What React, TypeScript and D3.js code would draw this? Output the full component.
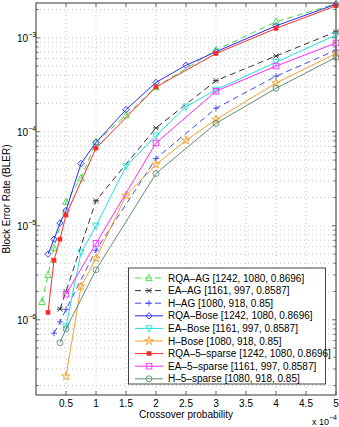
import React, { useEffect, useRef } from 'react';
import * as d3 from 'd3';

// crossover probability (x 10^-4) and BLER for each curve
const rqaAgX = [0.1, 0.2, 0.3, 0.5, 0.75, 1, 1.5, 2, 3, 4, 5];
const rqaAgY = [1.55e-6, 3.0e-6, 5.8e-6, 1.8e-5, 3.2e-5, 7.8e-5, 1.5e-4, 3.0e-4, 7.4e-4, 1.48e-3, 2.3e-3];
const eaAgX = [0.4, 0.5, 1, 2, 3, 4, 5];
const eaAgY = [1.3e-6, 2.0e-6, 1.85e-5, 1.1e-4, 3.5e-4, 6.4e-4, 1.16e-3];
const hAgX = [0.3, 0.4, 0.5, 1, 2, 3, 4, 5];
const hAgY = [7.2e-7, 9.5e-7, 1.29e-6, 5.5e-6, 5.2e-5, 1.78e-4, 3.9e-4, 7.4e-4];
const rqaBoseX = [0.2, 0.3, 0.4, 0.5, 0.75, 1, 1.5, 2, 2.5, 3, 4, 5];
const rqaBoseY = [5.0e-6, 7.2e-6, 1.07e-5, 1.45e-5, 4.6e-5, 7.7e-5, 1.72e-4, 3.35e-4, 5.1e-4, 7.1e-4, 1.34e-3, 2.28e-3];
const eaBoseX = [0.5, 0.75, 1, 1.5, 2, 2.5, 3, 4, 5];
const eaBoseY = [8.5e-7, 5.2e-6, 1.0e-5, 4.3e-5, 9.1e-5, 1.85e-4, 2.8e-4, 5.5e-4, 1.07e-3];
const hBoseX = [0.5, 0.75, 1, 1.5, 2, 2.5, 3, 4, 5];
const hBoseY = [2.5e-7, 2.26e-6, 4.5e-6, 2.1e-5, 4.5e-5, 8.1e-5, 1.35e-4, 3.3e-4, 6.8e-4];
const rqaSparseX = [0.2, 0.3, 0.4, 0.5, 1, 2, 3, 4, 5];
const rqaSparseY = [1.2e-6, 4.3e-6, 7.2e-6, 1.3e-5, 6.7e-5, 3.0e-4, 6.8e-4, 1.26e-3, 2.19e-3];
const eaSparseX = [0.5, 1, 2, 3, 4, 5];
const eaSparseY = [1.87e-6, 6.5e-6, 7.6e-5, 2.7e-4, 5.0e-4, 8.8e-4];
const hSparseX = [0.4, 0.5, 1, 2, 3, 4, 5];
const hSparseY = [5.7e-7, 8.0e-7, 3.4e-6, 3.6e-5, 1.23e-4, 2.9e-4, 6.2e-4];

const xTicks = [0.5, 1, 1.5, 2, 2.5, 3, 3.5, 4, 4.5, 5];
const yDecades = [-6, -5, -4, -3];

const series = [
  { name: 'RQA\u2013AG [1242, 1080, 0.8696]', x: rqaAgX, y: rqaAgY, color: '#3ddc3d', dash: '6,4', marker: 'triUp' },
  { name: 'EA\u2013AG [1161, 997, 0.8587]', x: eaAgX, y: eaAgY, color: '#333333', dash: '6,4', marker: 'aster' },
  { name: 'H\u2013AG [1080, 918, 0.85]', x: hAgX, y: hAgY, color: '#4444ff', dash: '6,4', marker: 'plus' },
  { name: 'RQA\u2013Bose [1242, 1080, 0.8696]', x: rqaBoseX, y: rqaBoseY, color: '#2b2bff', dash: null, marker: 'diamond' },
  { name: 'EA\u2013Bose [1161, 997, 0.8587]', x: eaBoseX, y: eaBoseY, color: '#22dede', dash: null, marker: 'triDown' },
  { name: 'H\u2013Bose [1080, 918, 0.85]', x: hBoseX, y: hBoseY, color: '#f0a030', dash: null, marker: 'star' },
  { name: 'RQA\u20135\u2013sparse [1242, 1080, 0.8696]', x: rqaSparseX, y: rqaSparseY, color: '#ff2a2a', dash: null, marker: 'fill' },
  { name: 'EA\u20135\u2013sparse [1161, 997, 0.8587]', x: eaSparseX, y: eaSparseY, color: '#ff2aff', dash: null, marker: 'square' },
  { name: 'H\u20135\u2013sparse [1080, 918, 0.85]', x: hSparseX, y: hSparseY, color: '#5f8f70', dash: null, marker: 'circle' },
];

const W = 339;
const H = 427;
const FONT = '"Liberation Sans", Arial, sans-serif';

function drawMarker(g, kind, cx, cy, color) {
  const s = 3.2;
  if (kind === 'triUp') {
    g.append('path').attr('d', `M${cx},${cy - s - 0.6}L${cx + s},${cy + s - 0.6}L${cx - s},${cy + s - 0.6}Z`)
      .attr('fill', 'none').attr('stroke', color);
  } else if (kind === 'triDown') {
    g.append('path').attr('d', `M${cx},${cy + s + 0.6}L${cx + s},${cy - s + 0.6}L${cx - s},${cy - s + 0.6}Z`)
      .attr('fill', 'none').attr('stroke', color);
  } else if (kind === 'diamond') {
    g.append('path').attr('d', `M${cx},${cy - s}L${cx + s},${cy}L${cx},${cy + s}L${cx - s},${cy}Z`)
      .attr('fill', 'none').attr('stroke', color);
  } else if (kind === 'square') {
    g.append('rect').attr('x', cx - 2.8).attr('y', cy - 2.8).attr('width', 5.6).attr('height', 5.6)
      .attr('fill', 'none').attr('stroke', color);
  } else if (kind === 'circle') {
    g.append('circle').attr('cx', cx).attr('cy', cy).attr('r', 3)
      .attr('fill', 'none').attr('stroke', color);
  } else if (kind === 'plus') {
    g.append('path').attr('d', `M${cx - 3},${cy}H${cx + 3}M${cx},${cy - 3}V${cy + 3}`)
      .attr('stroke', color);
  } else if (kind === 'aster') {
    g.append('path').attr('d', `M${cx - 2.5},${cy - 2.5}L${cx + 2.5},${cy + 2.5}M${cx - 2.5},${cy + 2.5}L${cx + 2.5},${cy - 2.5}M${cx - 3},${cy}H${cx + 3}`)
      .attr('stroke', color);
  } else if (kind === 'star') {
    const star = d3.symbol().type(d3.symbolStar).size(22);
    g.append('path').attr('d', star()).attr('transform', `translate(${cx},${cy})`)
      .attr('fill', 'none').attr('stroke', color);
  } else if (kind === 'fill') {
    g.append('rect').attr('x', cx - 2).attr('y', cy - 2).attr('width', 4).attr('height', 4)
      .attr('fill', color).attr('stroke', color).attr('stroke-width', 0.6);
  }
}

const App = () => {
  const ref = useRef(null);

  useEffect(() => {
    const left = 36;
    const right = 336;
    const top = 3;
    const bottom = 395;

    const x = d3.scaleLinear().domain([0, 5]).range([left, right]);
    const y = d3.scaleLog().domain([Math.pow(10, -6.8), Math.pow(10, -2.63)]).range([bottom, top]);

    d3.select(ref.current).selectAll('*').remove();
    const svg = d3.select(ref.current)
      .append('svg')
      .attr('width', W)
      .attr('height', H)
      .style('position', 'absolute')
      .style('left', 0)
      .style('top', 0)
      .style('font-family', FONT);

    svg.append('rect').attr('width', W).attr('height', H).attr('fill', '#fff');

    // grid
    const grid = svg.append('g').attr('stroke', '#b8b8b8').attr('stroke-width', 0.8).attr('stroke-dasharray', '1,3');
    xTicks.forEach(t => {
      grid.append('line').attr('x1', x(t)).attr('x2', x(t)).attr('y1', top).attr('y2', bottom);
    });
    const minorVals = [];
    for (let e = -7; e <= -3; e++) {
      for (let m = 1; m <= 9; m++) {
        const v = m * Math.pow(10, e);
        if (v > y.domain()[0] && v < y.domain()[1]) minorVals.push({ v, major: m === 1 });
      }
    }
    minorVals.forEach(d => {
      grid.append('line').attr('x1', left).attr('x2', right).attr('y1', y(d.v)).attr('y2', y(d.v));
    });

    // ticks (inward, all four sides)
    const ticks = svg.append('g').attr('stroke', '#444').attr('stroke-width', 0.8);
    xTicks.forEach(t => {
      ticks.append('line').attr('x1', x(t)).attr('x2', x(t)).attr('y1', bottom).attr('y2', bottom - 4);
      ticks.append('line').attr('x1', x(t)).attr('x2', x(t)).attr('y1', top).attr('y2', top + 4);
    });
    minorVals.forEach(d => {
      const len = d.major ? 4 : 2.5;
      ticks.append('line').attr('x1', left).attr('x2', left + len).attr('y1', y(d.v)).attr('y2', y(d.v));
      ticks.append('line').attr('x1', right).attr('x2', right - len).attr('y1', y(d.v)).attr('y2', y(d.v));
    });

    // curves
    const line = d3.line().x(d => x(d[0])).y(d => y(d[1]));
    series.forEach(s => {
      const pts = s.x.map((v, i) => [v, s.y[i]]);
      svg.append('path')
        .attr('d', line(pts))
        .attr('fill', 'none')
        .attr('stroke', s.color)
        .attr('stroke-width', 1)
        .attr('stroke-dasharray', s.dash);
      const mg = svg.append('g').attr('stroke-width', 0.9);
      pts.forEach(p => drawMarker(mg, s.marker, x(p[0]), y(p[1]), s.color));
    });

    // box
    svg.append('rect')
      .attr('x', left).attr('y', top)
      .attr('width', right - left).attr('height', bottom - top)
      .attr('fill', 'none').attr('stroke', '#555').attr('stroke-width', 1.2);

    // x tick labels
    xTicks.forEach(t => {
      svg.append('text')
        .attr('x', x(t)).attr('y', bottom + 12)
        .attr('text-anchor', 'middle')
        .attr('font-size', 10)
        .text(t);
    });
    svg.append('text')
      .attr('x', (left + right) / 2).attr('y', bottom + 23)
      .attr('text-anchor', 'middle').attr('font-size', 10)
      .text('Crossover probability');
    const mult = svg.append('text').attr('x', 312).attr('y', 425).attr('font-size', 9);
    mult.append('tspan').text('x 10');
    mult.append('tspan').attr('dy', -5).attr('font-size', 7).text('\u22124');

    // y tick labels
    yDecades.forEach(e => {
      const t = svg.append('text')
        .attr('x', 17).attr('y', y(Math.pow(10, e)) + 4)
        .attr('font-size', 10);
      t.append('tspan').text('10');
      t.append('tspan').attr('dy', -5).attr('font-size', 7).text('\u2212' + -e);
    });
    svg.append('text')
      .attr('transform', `translate(10,${(top + bottom) / 2}) rotate(-90)`)
      .attr('text-anchor', 'middle').attr('font-size', 10)
      .text('Block Error Rate (BLER)');

    // legend
    const lg = svg.append('g');
    lg.append('rect')
      .attr('x', 128.5).attr('y', 268)
      .attr('width', 197).attr('height', 116)
      .attr('fill', '#fff').attr('stroke', '#444').attr('stroke-width', 1);
    series.forEach((s, i) => {
      const cy = 278 + i * 12.6;
      lg.append('line')
        .attr('x1', 135).attr('x2', 163).attr('y1', cy).attr('y2', cy)
        .attr('stroke', s.color).attr('stroke-width', 1)
        .attr('stroke-dasharray', s.dash);
      drawMarker(lg.append('g').attr('stroke-width', 0.9), s.marker, 149, cy, s.color);
      lg.append('text')
        .attr('x', 168).attr('y', cy + 3.6)
        .attr('font-size', 10)
        .text(s.name);
    });
  }, []);

  return <div ref={ref}></div>;
};

export default App;
